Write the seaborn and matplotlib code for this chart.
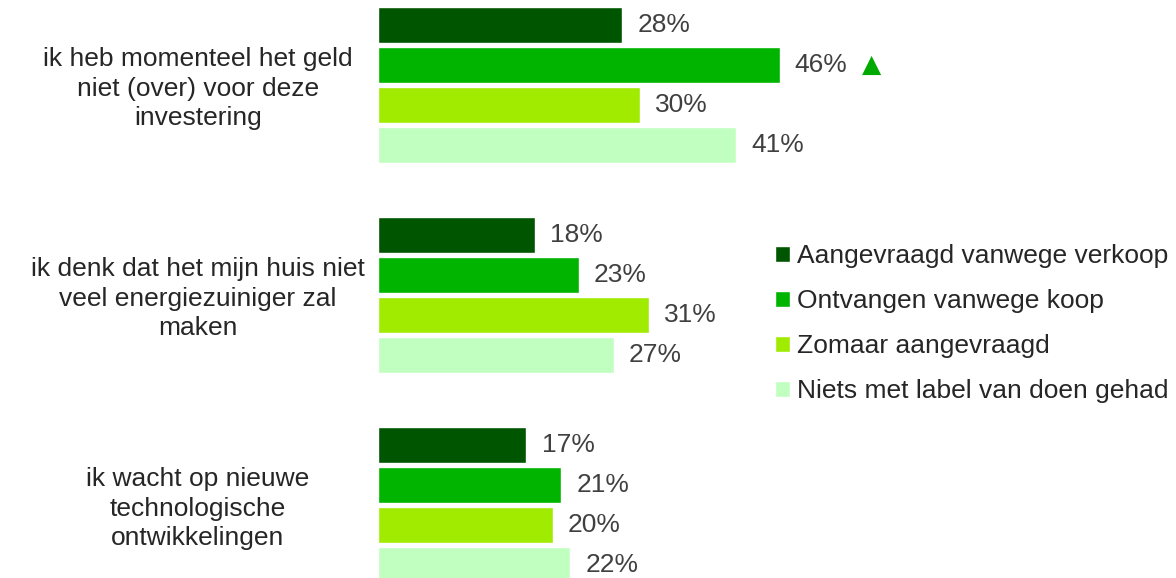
import numpy as np
import pandas as pd
import matplotlib
matplotlib.use("Agg")
import matplotlib.pyplot as plt
import seaborn as sns

# Chart data
reasons = [
    "ik heb momenteel het geld\nniet (over) voor deze\ninvestering",
    "ik denk dat het mijn huis niet\nveel energiezuiniger zal\nmaken",
    "ik wacht op nieuwe\ntechnologische\nontwikkelingen",
]
groups = [
    "Aangevraagd vanwege verkoop",
    "Ontvangen vanwege koop",
    "Zomaar aangevraagd",
    "Niets met label van doen gehad",
]
verkoop = [28, 18, 17]
koop = [46, 23, 21]
zomaar = [30, 31, 20]
niets = [41, 27, 22]
# significant higher marker (group, reason)
significant = [("Ontvangen vanwege koop", 0)]

colors = ["#005500", "#00B400", "#A0EB00", "#C0FFC0"]

df = pd.DataFrame({
    "reden": reasons * 4,
    "groep": np.repeat(groups, 3),
    "pct": verkoop + koop + zomaar + niets,
})

sns.set_style("white")
plt.rcParams["font.family"] = ["Liberation Sans", "DejaVu Sans"]

fig = plt.figure(figsize=(11.76, 5.78), dpi=100)
ax = fig.add_axes([378 / 1176, 0, 1 - 378 / 1176, 1])

sns.barplot(data=df, y="reden", x="pct", hue="groep", hue_order=groups,
            palette=colors, orient="h", width=0.76, gap=0.1, ax=ax,
            saturation=1, errorbar=None)

ax.set_xlim(0, (1176 - 378) / 8.73)
ax.set_ylim(2 + (578 - 505) / 210, -85 / 210)

for cont in ax.containers:
    ax.bar_label(cont, labels=[f"{v:.0f}%" for v in cont.datavalues],
                 padding=11, fontsize=19, color="#404040")

# significance triangle
for grp, idx in significant:
    cont = ax.containers[groups.index(grp)]
    bar = cont[idx]
    ax.annotate("▲", xy=(bar.get_width(), bar.get_y() + bar.get_height() / 2),
                xytext=(66, 0), textcoords="offset points", ha="center",
                va="center", fontsize=18, color="#00AA00",
                family=["DejaVu Sans"])

# category labels, centred to the left of the bars
trans = matplotlib.transforms.blended_transform_factory(fig.transFigure, ax.transData)
for i, r in enumerate(reasons):
    ax.text(198 / 1176, i + 0.018, r, transform=trans, ha="center", va="center",
            fontsize=19, color="#262626", linespacing=1.3, multialignment="center")

ax.set_yticks([])
ax.set_xticks([])
ax.set_xlabel("")
ax.set_ylabel("")
sns.despine(ax=ax, left=True, bottom=True)

handles, labels = ax.get_legend_handles_labels()
ax.get_legend().remove()
fig.legend(handles, labels, loc="upper left",
           bbox_to_anchor=(775 / 1176, 1 - 244 / 578), frameon=False,
           fontsize=19, handlelength=0.55, handleheight=0.55,
           handletextpad=0.27, labelspacing=0.8, borderpad=0,
           borderaxespad=0, labelcolor="#262626")

fig.savefig("out.png", dpi=100)
